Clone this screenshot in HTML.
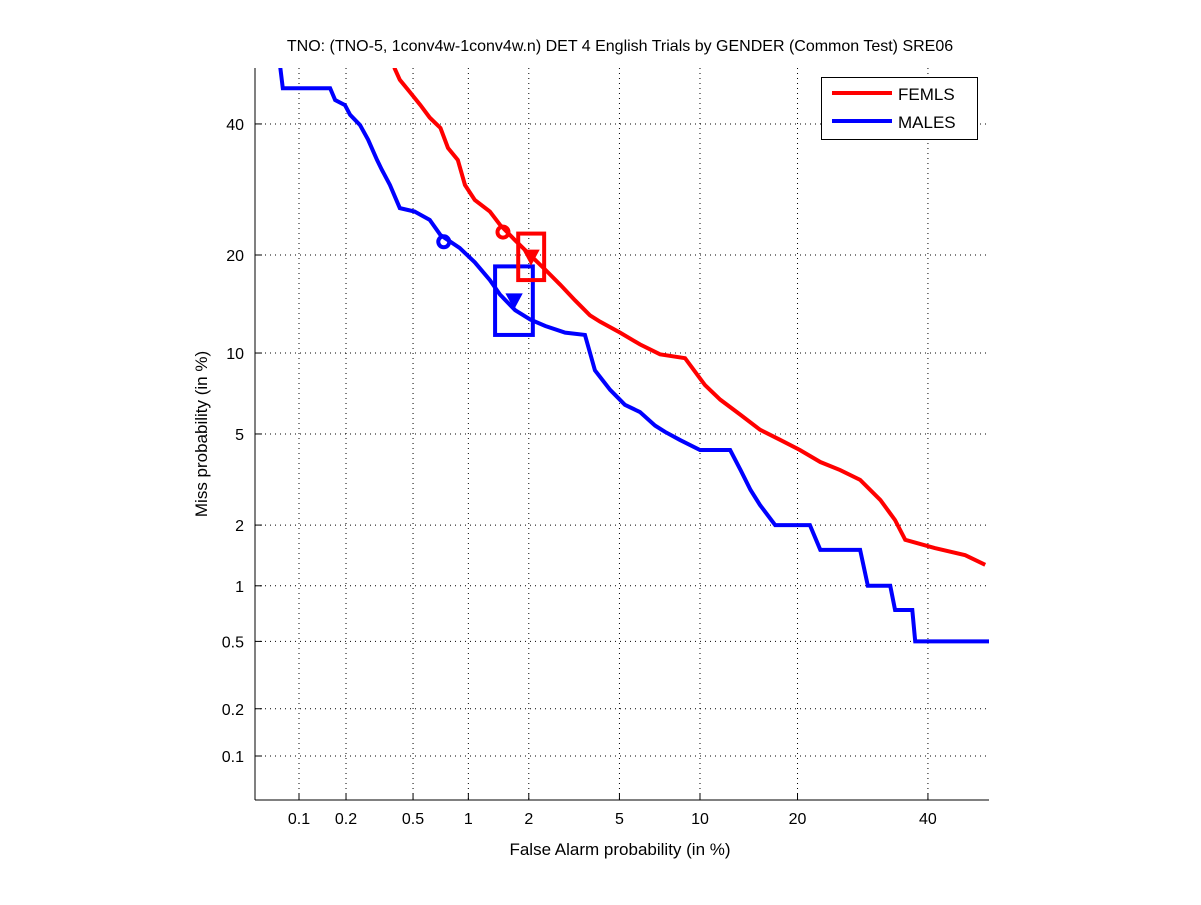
<!DOCTYPE html>
<html><head><meta charset="utf-8"><style>
body{margin:0;background:#fff;}
svg text{font-family:"Liberation Sans",sans-serif;fill:#000;}
</style></head><body>
<svg id="chart" width="1201" height="900">
<rect width="1201" height="900" fill="#fff"/>
<text x="620" y="51" font-size="16" text-anchor="middle">TNO: (TNO-5, 1conv4w-1conv4w.n) DET 4 English Trials by GENDER (Common Test) SRE06</text>
<text x="620" y="855" font-size="17" text-anchor="middle">False Alarm probability (in %)</text>
<text transform="translate(207,434) rotate(-90)" font-size="17" text-anchor="middle">Miss probability (in %)</text>
<g id="grid"></g><g id="ticks"></g>
<defs><clipPath id="clip"><rect x="255" y="68" width="734" height="732"/></clipPath></defs>
<g id="series" clip-path="url(#clip)"></g>
<line x1="255" y1="68" x2="255" y2="800" stroke="#000"/>
<line x1="255" y1="800" x2="989" y2="800" stroke="#000"/>
<g>
<rect x="821.5" y="77.5" width="156" height="62" fill="#fff" stroke="#000"/>
<line x1="832" y1="93" x2="892" y2="93" stroke="#f00" stroke-width="4"/>
<text x="898" y="100" font-size="17">FEMLS</text>
<line x1="832" y1="121" x2="892" y2="121" stroke="#00f" stroke-width="4"/>
<text x="898" y="128" font-size="17">MALES</text>
</g>
</svg>
<script>
const xTicks=[0.1,0.2,0.5,1,2,5,10,20,40];
const yTicks=[0.1,0.2,0.5,1,2,5,10,20,40];
const tickLabels=["0.1","0.2","0.5","1","2","5","10","20","40"];
const femFA=[0.39,0.42,0.48,0.55,0.62,0.71,0.78,0.88,0.96,1.08,1.29,1.45,1.72,2.03,2.39,2.79,3.25,3.77,4.16,5.03,6.03,7.19,8.87,10.4,11.7,13.6,15.6,17.9,20.3,23.0,25.8,28.8,32.0,34.4,36.1,41.2,46.6,50.2];
const femMiss=[50,47.8,45.6,43.3,41.1,39.3,35.9,33.9,29.9,27.6,25.9,24.0,21.9,20.0,18.2,16.5,14.8,13.3,12.7,11.7,10.7,9.9,9.6,7.7,6.8,5.95,5.2,4.73,4.3,3.83,3.54,3.21,2.61,2.11,1.70,1.55,1.43,1.28];
const maleFA=[0.075,0.078,0.159,0.171,0.197,0.212,0.244,0.273,0.309,0.330,0.368,0.42,0.51,0.62,0.71,0.90,1.08,1.29,1.45,1.72,2.03,2.39,2.94,3.59,3.96,4.58,5.26,6.03,6.89,7.5,8.5,10.0,12.6,13.6,14.6,15.6,17.3,21.6,23.0,28.8,30.0,33.6,34.4,37.3,37.8,50.9];
const maleMiss=[50,46.3,46.3,44.2,43.3,41.6,39.8,37.3,33.9,32.3,29.9,26.4,25.9,24.7,22.6,20.9,19.1,17.0,15.4,13.8,12.9,12.3,11.7,11.5,8.7,7.4,6.5,6.1,5.4,5.1,4.73,4.3,4.3,3.54,2.9,2.48,2.0,2.0,1.52,1.52,1.0,1.0,0.745,0.745,0.50,0.50];
const femMinDcf=[1.50,23.0], femActDcf=[2.05,19.8], femBox=[1.78,2.36,17.0,22.8];
const maleMinDcf=[0.74,21.7], maleActDcf=[1.70,14.8], maleBox=[1.37,2.09,11.5,18.6];

function probit(p){
 const a=[-39.69683028665376,220.9460984245205,-275.9285104469687,138.357751867269,-30.66479806614716,2.506628277459239];
 const b=[-54.47609879822406,161.5858368580409,-155.6989798598866,66.80131188771972,-13.28068155288572];
 const c=[-0.007784894002430293,-0.3223964580411365,-2.400758277161838,-2.549732539343734,4.374664141464968,2.938163982698783];
 const d=[0.007784695709041462,0.3224671290700398,2.445134137142996,3.754408661907416];
 let q,r;
 if(p<0.02425){q=Math.sqrt(-2*Math.log(p));return (((((c[0]*q+c[1])*q+c[2])*q+c[3])*q+c[4])*q+c[5])/((((d[0]*q+d[1])*q+d[2])*q+d[3])*q+1);}
 if(p>1-0.02425){return -probit(1-p);}
 q=p-0.5;r=q*q;return (((((a[0]*r+a[1])*r+a[2])*r+a[3])*r+a[4])*r+a[5])*q/(((((b[0]*r+b[1])*r+b[2])*r+b[3])*r+b[4])*r+1);
}
const X=v=>299+(probit(v/100)-probit(0.001))*221.7;
const Y=v=>756-(probit(v/100)-probit(0.001))*222.8;
const NS="http://www.w3.org/2000/svg";
function mk(tag,attrs,parent){const e=document.createElementNS(NS,tag);for(const k in attrs)e.setAttribute(k,attrs[k]);parent.appendChild(e);return e;}
const grid=document.getElementById('grid'),ticks=document.getElementById('ticks'),series=document.getElementById('series');
xTicks.forEach((t,i)=>{
 const x=X(t);
 const g=mk('line',{x1:x,y1:68,x2:x,y2:800,stroke:'#000','stroke-dasharray':'1,4'},grid);
 
 
 const tk=mk('line',{x1:x,y1:800,x2:x,y2:793,stroke:'#000'},ticks);
 
 
 const tx=mk('text',{x:x,y:824,'font-size':16,'text-anchor':'middle'},ticks);
 tx.textContent=tickLabels[i];
 
 
});
yTicks.forEach((t,i)=>{
 const y=Y(t);
 const g=mk('line',{x1:255,y1:y,x2:989,y2:y,stroke:'#000','stroke-dasharray':'1,4'},grid);
 
 
 const tk=mk('line',{x1:255,y1:y,x2:262,y2:y,stroke:'#000'},ticks);
 
 
 const tx=mk('text',{x:244,y:y+6,'font-size':16,'text-anchor':'end'},ticks);
 tx.textContent=tickLabels[i];
 
 
});
function curve(fa,miss,color,name){
 let pts=[];
 for(let i=0;i<fa.length;i++){
  pts.push(X(fa[i])+','+Y(miss[i]));
 }
 const p=mk('polyline',{points:pts.join(' '),fill:'none',stroke:color,'stroke-width':4,'stroke-linejoin':'miter'},series);
 
 
}
function markers(mn,act,box,color,prefix){
 const c=mk('circle',{cx:X(mn[0]),cy:Y(mn[1]),r:5.5,fill:'none',stroke:color,'stroke-width':4},series);
 
 
 const tx=X(act[0]),ty=Y(act[1]);
 const t=mk('polygon',{points:`${tx-7},${ty-6} ${tx+7},${ty-6} ${tx},${ty+7}`,fill:color,stroke:color,'stroke-width':2},series);
 
 
 const x1=X(box[0]),x2=X(box[1]),y1=Y(box[3]),y2=Y(box[2]);
 const r=mk('rect',{x:x1,y:y1,width:x2-x1,height:y2-y1,fill:'none',stroke:color,'stroke-width':4},series);
 
 
}
curve(maleFA,maleMiss,'#00f','males-det-curve');
curve(femFA,femMiss,'#f00','femls-det-curve');
markers(maleMinDcf,maleActDcf,maleBox,'#00f','males');
markers(femMinDcf,femActDcf,femBox,'#f00','femls');
</script>
</body></html>
